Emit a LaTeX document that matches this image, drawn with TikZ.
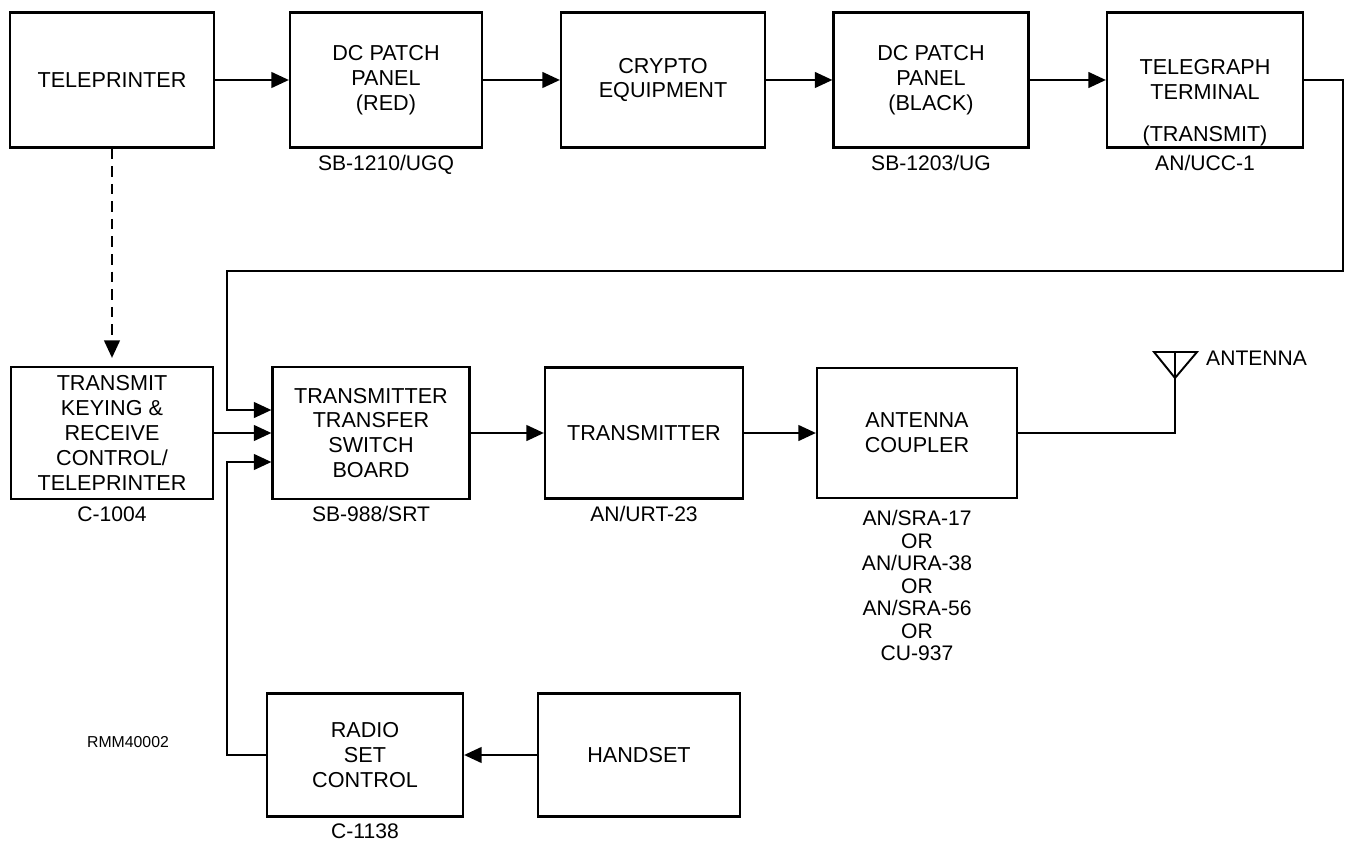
\documentclass[tikz,border=0pt]{standalone}
\usepackage{fontspec}
\setmainfont{Liberation Sans}
\usetikzlibrary{shapes,arrows,arrows.meta,positioning}

\begin{document}
\begin{tikzpicture}[x=0.02cm,y=-0.02cm]
      \tikzstyle{unit} = [rectangle, draw, line width=1.3pt, align=center, minimum width=4cm, minimum height=2.7cm, font=\fontsize{12.3}{14.2}\selectfont]
      \tikzstyle{tag} = [align=center, font=\fontsize{12}{13}\selectfont]
      \tikzstyle{link} = [line width=1.1pt, -{Triangle[length=10pt,width=9pt]}]
      \tikzstyle{wire} = [line width=1.1pt]

      \useasboundingbox (0,0) rectangle (1345,841);

      % top row
      \node[unit, minimum width=4.08cm] (tp) at (112,80) {TELEPRINTER};
      \node[unit, minimum width=3.84cm] (dcred) at (386,80) {DC PATCH\\PANEL\\(RED)};
      \node[unit, minimum width=4.08cm] (crypto) at (663,80) {CRYPTO\\EQUIPMENT};
      \node[unit, minimum width=3.9cm] (dcblack) at (931,80) {DC PATCH\\PANEL\\(BLACK)};
      \node[unit, minimum width=3.92cm, inner ysep=0pt] (tel) at (1205,80) {\mbox{}\\[0.7cm]TELEGRAPH\\TERMINAL\\[0.34cm](TRANSMIT)};

      % middle row
      \node[unit, minimum width=4.04cm, minimum height=2.64cm] (key) at (112,433) {TRANSMIT\\KEYING \&\\RECEIVE\\CONTROL/\\TELEPRINTER};
      \node[unit, minimum width=3.94cm, minimum height=2.64cm] (trs) at (371,433) {TRANSMITTER\\TRANSFER\\SWITCH\\BOARD};
      \node[unit, minimum width=3.96cm, minimum height=2.62cm] (tx) at (644,433) {TRANSMITTER};
      \node[unit, minimum width=4cm, minimum height=2.6cm] (cpl) at (917,433) {ANTENNA\\COUPLER};

      % bottom row
      \node[unit, minimum width=3.92cm, minimum height=2.46cm] (rsc) at (365,755) {RADIO\\SET\\CONTROL};
      \node[unit, minimum width=4.04cm, minimum height=2.46cm] (hs) at (639,755) {HANDSET};

      % equipment numbers
      \node[tag, below=0pt of dcred] (dcredtag) {SB-1210/UGQ};
      \node[tag, below=0pt of dcblack] (dcblacktag) {SB-1203/UG};
      \node[tag, below=0pt of tel] (teltag) {AN/UCC-1};
      \node[tag, below=0pt of key] (keytag) {C-1004};
      \node[tag, below=0pt of trs] (trstag) {SB-988/SRT};
      \node[tag, below=0pt of tx] (txtag) {AN/URT-23};
      \node[tag, below=3pt of cpl, font=\fontsize{12}{12.8}\selectfont] (cpltag) {AN/SRA-17\\OR\\AN/URA-38\\OR\\AN/SRA-56\\OR\\CU-937};
      \node[tag, below=0pt of rsc] (rsctag) {C-1138};
      \node[font=\fontsize{9}{10}\selectfont] (code) at (128,742) {RMM40002};

      % antenna
      \coordinate (ant) at (1175,378);
      \draw[wire, line join=miter] (ant) -- ++(-21,-26) -- ++(43,0) -- cycle;
      \draw[wire] (ant) -- ++(0,-26);
      \node[anchor=west, font=\fontsize{12}{14}\selectfont] (anttext) at (1200,358) {ANTENNA};

      % turning points
      \coordinate (turnA) at (1343,271);
      \coordinate (turnB) at (227,271);
      \coordinate (turnC) at (227,462);

      \draw[link] (tp) -- (dcred);
      \draw[link] (dcred) -- (crypto);
      \draw[link] (crypto) -- (dcblack);
      \draw[link] (dcblack) -- (tel);
      \draw[link] (tel.east) -| (turnA) -- (turnB) |- ([yshift=0.46cm]trs.west);
      \draw[link, dashed, dash pattern=on 6pt off 4pt, shorten >=0.16cm] (tp) -- (key);
      \draw[link] (key) -- (trs);
      \draw[link] (rsc.west) -| (turnC) -- ([yshift=-0.58cm]trs.west);
      \draw[link] (hs) -- (rsc);
      \draw[link] (trs) -- (tx);
      \draw[link] (tx) -- (cpl);
      \draw[wire] (cpl.east) -| (ant);
    \end{tikzpicture}
\end{document}
